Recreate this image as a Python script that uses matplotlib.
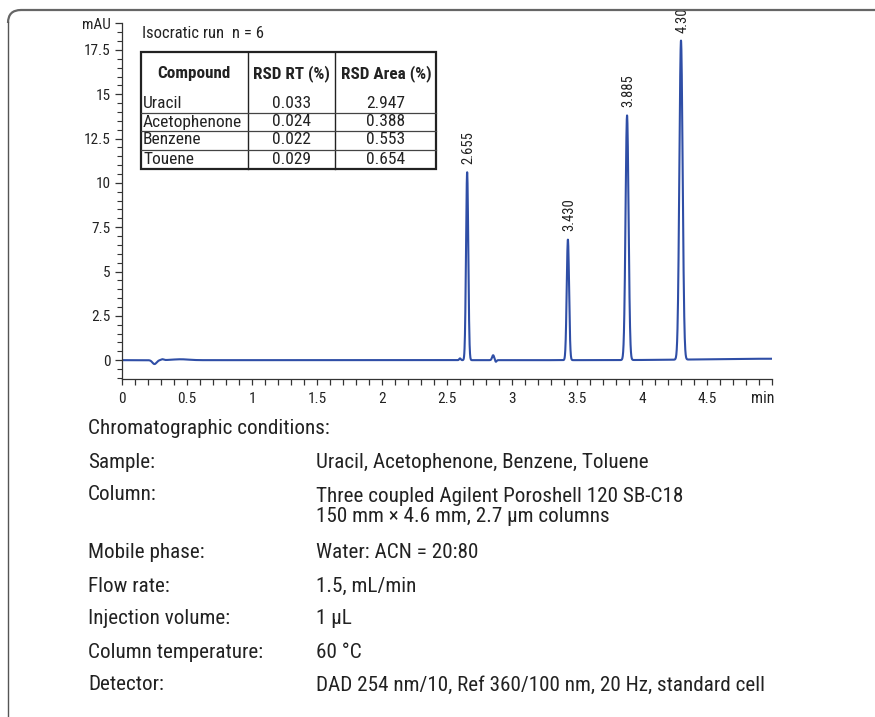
import numpy as np
import matplotlib
matplotlib.use("Agg")
import matplotlib.pyplot as plt
from matplotlib.patches import Rectangle
from matplotlib.lines import Line2D
from matplotlib.path import Path
from matplotlib.patches import PathPatch
from matplotlib.ticker import MultipleLocator, FixedLocator, FixedFormatter
import matplotlib.transforms as mtransforms

plt.rcParams['font.family'] = ['Roboto Condensed', 'Liberation Sans Narrow', 'DejaVu Sans Condensed', 'Liberation Sans', 'DejaVu Sans']

# ---------------- data ----------------
# main peaks (retention time [min], height [mAU], sigma [min])
peak_rt = [2.655, 3.430, 3.885, 4.300]
peak_height = [10.6, 6.8, 13.8, 18.0]
peak_sigma = [0.0085, 0.009, 0.0115, 0.0125]
peak_labels = ["2.655", "3.430", "3.885", "4.300"]

# small baseline features (time, height, sigma)
minor_rt = [0.25, 0.31, 0.45, 2.60, 2.855, 2.875, 5.0]
minor_height = [-0.22, 0.05, 0.05, 0.10, 0.28, -0.10, 0.08]
minor_sigma = [0.016, 0.010, 0.060, 0.006, 0.008, 0.006, 0.5]

compounds = ["Uracil", "Acetophenone", "Benzene", "Touene"]
rsd_rt = ["0.033", "0.024", "0.022", "0.029"]
rsd_area = ["2.947", "0.388", "0.553", "0.654"]
table_headers = ["Compound", "RSD RT (%)", "RSD Area (%)"]

cond_labels = ["Sample:", "Column:", "Mobile phase:", "Flow rate:",
               "Injection volume:", "Column temperature:", "Detector:"]
cond_values = ["Uracil, Acetophenone, Benzene, Toluene",
               "Three coupled Agilent Poroshell 120 SB-C18\n150 mm \u00d7 4.6 mm, 2.7 \u00b5m columns",
               "Water: ACN = 20:80",
               "1.5, mL/min",
               "1 \u00b5L",
               "60 \u00b0C",
               "DAD 254 nm/10, Ref 360/100 nm, 20 Hz, standard cell"]

# ---------------- figure ----------------
W, H = 875, 717
fig = plt.figure(figsize=(W / 100, H / 100), dpi=100)

def fx(x):
    return x / W

def fy(y):
    return 1 - y / H

TXT = '#222222'
ax_l, ax_r, ax_t, ax_b = 122, 772, 22.5, 379.3
ax = fig.add_axes([fx(ax_l), fy(ax_b), (ax_r - ax_l) / W, (ax_b - ax_t) / H])

t = np.arange(0, 5.0005, 0.001)
sig = np.zeros_like(t)
for rt, h, s in zip(peak_rt + minor_rt, peak_height + minor_height, peak_sigma + minor_sigma):
    sig += h * np.exp(-0.5 * ((t - rt) / s) ** 2)

ax.plot(t, sig, color='#2f4ea6', lw=1.5, solid_joinstyle='round')

ax.set_xlim(0, 5.0)
ax.set_ylim(-1.08, 19.05)

for sp in ['top', 'right']:
    ax.spines[sp].set_visible(False)
for sp in ['left', 'bottom']:
    ax.spines[sp].set_color('#333333')
    ax.spines[sp].set_linewidth(0.9)

yt = [0, 2.5, 5, 7.5, 10, 12.5, 15, 17.5, 19]
ax.yaxis.set_major_locator(FixedLocator(yt))
ax.yaxis.set_major_formatter(FixedFormatter(["0", "2.5", "5", "7.5", "10", "12.5", "15", "17.5", "mAU"]))
ax.yaxis.set_minor_locator(MultipleLocator(0.5))
ax.xaxis.set_major_locator(FixedLocator([0, 0.5, 1, 1.5, 2, 2.5, 3, 3.5, 4, 4.5]))
ax.xaxis.set_major_formatter(FixedFormatter(["0", "0.5", "1", "1.5", "2", "2.5", "3", "3.5", "4", "4.5"]))
ax.xaxis.set_minor_locator(MultipleLocator(0.1))
ax.tick_params(axis='y', which='major', direction='out', length=5, width=0.9, color='#333333',
               labelsize=11, labelcolor=TXT, pad=3)
ax.tick_params(axis='y', which='minor', direction='out', length=3.5, width=0.8, color='#333333')
ax.tick_params(axis='x', which='both', direction='out', length=4.5, width=0.9, color='#333333',
               labelsize=11, labelcolor=TXT, pad=5)
ax.text(4.93, -1.08, "min", ha='center', va='top', fontsize=11.5, color=TXT,
        transform=ax.transData + mtransforms.ScaledTranslation(0, -8.5 / 72, fig.dpi_scale_trans))

# peak labels
clip_rect = Rectangle((0, 0), 1, fy(11), transform=fig.transFigure, visible=False)
fig.add_artist(clip_rect)
for rt, h, lab in zip(peak_rt, peak_height, peak_labels):
    tx = ax.annotate(lab, xy=(rt, h), xytext=(1, 6), textcoords='offset points',
                     rotation=90, ha='center', va='bottom', fontsize=10.5, color=TXT,
                     annotation_clip=False)
    tx.set_clip_path(clip_rect)
    tx.set_clip_on(True)

# ---------------- table ----------------
fig.text(fx(142), fy(33), "Isocratic run  n = 6", ha='left', va='center', fontsize=12, color=TXT)

tl, tr, ttop, tbot = 141, 436, 52, 169
col_x = [248, 335]
row_y = [113, 131, 150]
lines = []
for cx in col_x:
    lines.append(Line2D([fx(cx), fx(cx)], [fy(ttop), fy(tbot)], lw=1.0, color='#222222'))
for ry in row_y:
    lines.append(Line2D([fx(tl), fx(tr)], [fy(ry), fy(ry)], lw=0.9, color='#444444'))
for ln in lines:
    ln.set_transform(fig.transFigure)
    fig.add_artist(ln)
fig.add_artist(Rectangle((fx(tl), fy(tbot)), fx(tr) - fx(tl), fy(ttop) - fy(tbot),
                         transform=fig.transFigure, fill=False, lw=1.6, edgecolor='#222222'))

hdr_x = [194, 291.5, 386]
for hx, hd in zip(hdr_x, table_headers):
    fig.text(fx(hx), fy(73.5), hd, ha='center', va='center', fontsize=12.3, fontweight='bold', color=TXT)
row_text_y = [103.5, 122, 140, 159.5]
for ry, c, r1, r2 in zip(row_text_y, compounds, rsd_rt, rsd_area):
    fig.text(fx(143), fy(ry), c, ha='left', va='center', fontsize=12.5, color=TXT)
    fig.text(fx(hdr_x[1]), fy(ry), r1, ha='center', va='center', fontsize=12.5, color=TXT)
    fig.text(fx(hdr_x[2]), fy(ry), r2, ha='center', va='center', fontsize=12.5, color=TXT)

# ---------------- conditions ----------------
fs_c = 15.2
fig.text(fx(88), fy(428), "Chromatographic conditions:", ha='left', va='center', fontsize=fs_c, color=TXT)
cond_y = [462, 506.5, 553, 586, 619, 652, 685]
for cy, lab, val in zip(cond_y, cond_labels, cond_values):
    fig.text(fx(88), fy(cy if '\n' not in val else 495), lab, ha='left', va='center', fontsize=fs_c, color=TXT)
    fig.text(fx(316), fy(cy), val, ha='left', va='center',
             fontsize=fs_c, color=TXT, linespacing=1.1)

# ---------------- frame ----------------
verts = [(fx(875), fy(10)), (fx(21), fy(10)), (fx(8), fy(10)), (fx(8), fy(23))]
codes = [Path.MOVETO, Path.LINETO, Path.CURVE3, Path.CURVE3]
fig.add_artist(PathPatch(Path(verts, codes), transform=fig.transFigure, fill=False,
                         lw=1.6, edgecolor='#666666', capstyle='butt'))
fig.add_artist(Line2D([fx(8), fx(8)], [fy(22), fy(716)], transform=fig.transFigure,
                      lw=1.0, color='#555555'))

fig.savefig("out.png", dpi=100, facecolor='white')
